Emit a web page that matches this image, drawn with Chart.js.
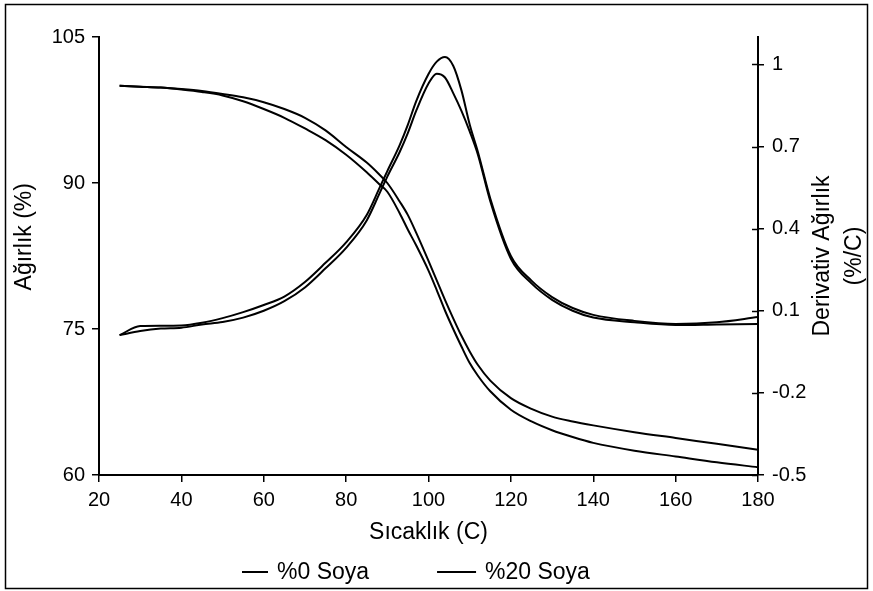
<!DOCTYPE html>
<html>
<head>
<meta charset="utf-8">
<script src="https://cdn.jsdelivr.net/npm/chart.js"></script>
<style>
  html, body { margin: 0; padding: 0; background: #fff; }
  canvas { display: block; }
</style>
</head>
<body>
<canvas id="tga" width="873" height="591"></canvas>
<script>
// temperature (C) shared by all curves
const temps = [25, 30, 35, 40, 45, 50, 55, 60, 65, 70, 75, 80, 85, 88, 90, 93, 95, 97, 100, 102, 104, 106, 108, 110, 112, 115, 120, 125, 130, 135, 140, 150, 160, 170, 180];

// weight (%) - left axis
const weight0 = [100.0, 99.9, 99.8, 99.65, 99.45, 99.15, 98.8, 98.3, 97.6, 96.7, 95.4, 93.7, 92.1, 90.9, 90.0, 88.1, 86.7, 84.9, 82.0, 80.0, 78.0, 76.1, 74.3, 72.7, 71.3, 69.7, 67.9, 66.8, 66.0, 65.5, 65.1, 64.4, 63.8, 63.2, 62.6];
const weight20 = [100.0, 99.9, 99.8, 99.6, 99.35, 99.0, 98.4, 97.6, 96.7, 95.6, 94.4, 92.9, 91.1, 89.9, 89.1, 86.9, 85.2, 83.6, 81.0, 79.0, 76.9, 75.0, 73.2, 71.5, 70.2, 68.6, 66.7, 65.5, 64.6, 63.9, 63.3, 62.5, 61.9, 61.3, 60.8];

// derivative weight (%/C) - right axis
const deriv0 = [0.011, 0.044, 0.045, 0.046, 0.056, 0.073, 0.095, 0.121, 0.152, 0.205, 0.275, 0.35, 0.45, 0.545, 0.61, 0.705, 0.78, 0.865, 0.965, 1.01, 1.027, 0.995, 0.905, 0.78, 0.68, 0.51, 0.30, 0.21, 0.15, 0.11, 0.085, 0.063, 0.052, 0.058, 0.077];
const deriv20 = [0.011, 0.026, 0.035, 0.038, 0.05, 0.059, 0.075, 0.1, 0.135, 0.185, 0.255, 0.33, 0.43, 0.525, 0.59, 0.68, 0.75, 0.83, 0.93, 0.966, 0.952, 0.895, 0.83, 0.755, 0.67, 0.50, 0.29, 0.20, 0.14, 0.10, 0.075, 0.058, 0.048, 0.05, 0.052];

const xTicks = [20, 40, 60, 80, 100, 120, 140, 160, 180];
const leftTicks = [60, 75, 90, 105];
const rightTicks = [-0.5, -0.2, 0.1, 0.4, 0.7, 1];

const seriesNames = ['%0 Soya', '%20 Soya'];

const FONT = "'Liberation Sans', Arial, sans-serif";
Chart.defaults.font.family = FONT;
Chart.defaults.color = '#000';

function pts(ys) {
  return temps.map((t, i) => ({ x: t, y: ys[i] }));
}

function line(label, ys, axis) {
  return {
    label: label,
    data: pts(ys),
    yAxisID: axis,
    borderColor: '#000',
    borderWidth: 2,
    pointRadius: 0,
    fill: false,
    cubicInterpolationMode: 'monotone'
  };
}

// frame, rotated axis titles, inner tick marks and the legend
const extras = {
  id: 'extras',
  afterDraw(chart) {
    const ctx = chart.ctx;
    const a = chart.chartArea;
    ctx.save();
    ctx.strokeStyle = '#000';
    ctx.lineWidth = 1.5;
    ctx.strokeRect(5.5, 4.5, 862, 584);

    // right axis ticks cross the axis line
    const r = chart.scales.y1;
    rightTicks.forEach(v => {
      const py = Math.round(r.getPixelForValue(v)) + 0.5;
      ctx.beginPath();
      ctx.moveTo(a.right - 6, py);
      ctx.lineTo(a.right, py);
      ctx.stroke();
    });

    ctx.fillStyle = '#000';
    ctx.font = '23px ' + FONT;
    ctx.textAlign = 'center';
    ctx.textBaseline = 'middle';

    ctx.save();
    ctx.translate(25, a.top + (a.bottom - a.top) * 0.456);
    ctx.rotate(-Math.PI / 2);
    ctx.fillText('Ağırlık (%)', 0, 0);
    ctx.restore();

    ctx.save();
    ctx.translate(a.right + 65, (a.top + a.bottom) / 2);
    ctx.rotate(-Math.PI / 2);
    ctx.fillText('Derivativ Ağırlık', 0, 0);
    ctx.fillText('(%/C)', 0, 32);
    ctx.restore();

    // legend
    const lens = [26, 39];
    let x = a.left + 143;
    const y = 572;
    ctx.textAlign = 'left';
    ctx.lineWidth = 2;
    seriesNames.forEach((name, i) => {
      ctx.beginPath();
      ctx.moveTo(x, y);
      ctx.lineTo(x + lens[i], y);
      ctx.stroke();
      x += lens[i] + 9;
      ctx.fillText(name, x, y + 1);
      x += ctx.measureText(name).width + 68;
    });
    ctx.restore();
  }
};

new Chart(document.getElementById('tga'), {
  type: 'line',
  data: {
    datasets: [
      line(seriesNames[0], weight0, 'y'),
      line(seriesNames[1], weight20, 'y'),
      line(seriesNames[0], deriv0, 'y1'),
      line(seriesNames[1], deriv20, 'y1')
    ]
  },
  options: {
    responsive: false,
    animation: false,
    layout: { padding: { top: 37, left: 0, right: 0, bottom: 0 } },
    plugins: {
      legend: { display: false },
      tooltip: { enabled: false }
    },
    scales: {
      x: {
        type: 'linear',
        min: 20,
        max: 180,
        afterBuildTicks: axis => { axis.ticks = xTicks.map(v => ({ value: v })); },
        afterFit: s => { s.height = 116; },
        grid: { drawOnChartArea: false, tickLength: 7, color: '#000', lineWidth: 1.5 },
        border: { color: '#000', width: 2 },
        ticks: { font: { size: 20 }, padding: 6, maxRotation: 0 },
        title: { display: true, text: 'Sıcaklık (C)', font: { size: 23 }, padding: { top: 0, bottom: 45 } }
      },
      y: {
        position: 'left',
        min: 60,
        max: 105,
        afterBuildTicks: axis => { axis.ticks = leftTicks.map(v => ({ value: v })); },
        afterFit: s => { s.width = 99; },
        grid: { drawOnChartArea: false, tickLength: 7, color: '#000', lineWidth: 1.5 },
        border: { color: '#000', width: 2 },
        ticks: { font: { size: 20 }, padding: 7 }
      },
      y1: {
        position: 'right',
        min: -0.5,
        max: 1.1,
        afterBuildTicks: axis => { axis.ticks = rightTicks.map(v => ({ value: v })); },
        afterFit: s => { s.width = 115; },
        grid: { drawOnChartArea: false, tickLength: 6, color: '#000', lineWidth: 1.5 },
        border: { color: '#000', width: 2 },
        ticks: { font: { size: 20 }, padding: 8, callback: v => String(v) }
      }
    }
  },
  plugins: [extras]
});
</script>
</body>
</html>
